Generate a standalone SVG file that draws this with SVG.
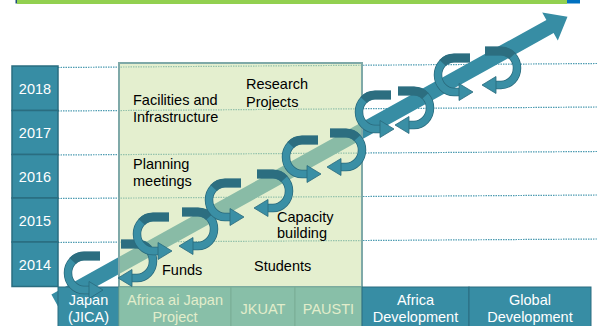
<svg xmlns="http://www.w3.org/2000/svg" width="597" height="326" viewBox="0 0 597 326">
<style>
.t{font-family:"Liberation Sans",Arial,sans-serif;font-size:14.5px;fill:#000}
.w{fill:#fff}
.g{fill:#E2EDCB}
.m{text-anchor:middle}
.yr{fill:#378DA4;stroke:#2A6D80;stroke-width:1.5}
.tc{fill:#378DA4;stroke:#2A6D80;stroke-width:1}
.gc{fill:#88BFA8;stroke:#7AAE96;stroke-width:1}
.dot{stroke:#4E9CB2;stroke-width:1.2;stroke-dasharray:1.5 1;fill:none}
</style>
<defs>
<g id="arcL">
<path d="M16,-17 L0,-17 A16 17 0 0 0 0 17 L6 17" fill="none" stroke="#2A6A7C" stroke-width="8.5"/>
<path d="M16,-17 L0,-17 A16 17 0 0 0 0 17 L6 17" fill="none" stroke="#3A8FA5" stroke-width="7"/>
<path d="M16,-17 L0,-17 A16 17 0 0 0 -11.3,-12" fill="none" stroke="#2C6E80" stroke-width="9"/>
<polygon points="5,8.5 19,17 5,25.5" fill="#3A8FA5" stroke="#2A6A7C" stroke-width="0.8"/>
</g>
</defs>

<g id="topbar">
<rect x="17" y="0" width="550" height="4" fill="#92D050"/>
<rect x="15.5" y="0" width="1.5" height="3.5" fill="#1F4E79"/>
<rect x="567" y="0" width="13" height="3.5" fill="#0070C0"/>
</g>

<g id="gridlines">
<line class="dot" x1="58" y1="67.5" x2="597" y2="63.5"/>
<line class="dot" x1="58" y1="111" x2="597" y2="107"/>
<line class="dot" x1="58" y1="155" x2="597" y2="151.5"/>
<line class="dot" x1="58" y1="198.5" x2="597" y2="195"/>
<line class="dot" x1="58" y1="242.5" x2="597" y2="239"/>
</g>

<g id="main-arrow">
<polygon points="51.4,294.4 546.4,19.9 542.2,12.5 567.5,16.8 557.8,40.5 553.6,33.1 58.6,307.6" fill="#378DA4"/>
</g>

<g id="box">
<rect x="119" y="63" width="243" height="224" fill="#CEE2A8" fill-opacity="0.55" stroke="#7FA9A8" stroke-width="2"/>
</g>

<g id="years">
<g id="year-2018"><rect class="yr" x="12" y="66" width="46" height="44.5"/><text class="t w m" x="35" y="94">2018</text></g>
<g id="year-2017"><rect class="yr" x="12" y="110.5" width="46" height="44"/><text class="t w m" x="35" y="138">2017</text></g>
<g id="year-2016"><rect class="yr" x="12" y="154.5" width="46" height="43.5"/><text class="t w m" x="35" y="182">2016</text></g>
<g id="year-2015"><rect class="yr" x="12" y="198" width="46" height="44"/><text class="t w m" x="35" y="225.5">2015</text></g>
<g id="year-2014"><rect class="yr" x="12" y="242" width="46" height="44.5"/><text class="t w m" x="35" y="269.5">2014</text></g>
</g>

<g id="bottom-row">
<g id="cell-japan"><rect class="tc" x="58" y="287" width="61" height="42"/><text class="t w m" x="88.5" y="305">Japan</text><text class="t w m" x="88.5" y="321.5">(JICA)</text></g>
<g id="cell-aiproject"><rect class="gc" x="119" y="287" width="112" height="42"/><text class="t g m" x="175" y="305">Africa ai Japan</text><text class="t g m" x="175" y="321.5">Project</text></g>
<g id="cell-jkuat"><rect class="gc" x="231" y="287" width="64" height="42"/><text class="t g m" x="263" y="313.5">JKUAT</text></g>
<g id="cell-pausti"><rect class="gc" x="295" y="287" width="67" height="42"/><text class="t g m" x="328.5" y="313.5">PAUSTI</text></g>
<g id="cell-africadev"><rect class="tc" x="362" y="287" width="107" height="42"/><text class="t w m" x="415.5" y="305">Africa</text><text class="t w m" x="415.5" y="321.5">Development</text></g>
<g id="cell-globaldev"><rect class="tc" x="469" y="287" width="122" height="42"/><text class="t w m" x="530" y="305">Global</text><text class="t w m" x="530" y="321.5">Development</text></g>
</g>

<g id="spirals">
<use href="#arcL" transform="translate(84,273)"/>
<use href="#arcL" transform="translate(137,261) scale(-1,1)"/>
<use href="#arcL" transform="translate(153,234)"/>
<use href="#arcL" transform="translate(198,229) scale(-1,1)"/>
<use href="#arcL" transform="translate(225,200)"/>
<use href="#arcL" transform="translate(273,191) scale(-1,1)"/>
<use href="#arcL" transform="translate(302,157)"/>
<use href="#arcL" transform="translate(346,150) scale(-1,1)"/>
<use href="#arcL" transform="translate(375,112)"/>
<use href="#arcL" transform="translate(414,108) scale(-1,1)"/>
<use href="#arcL" transform="translate(454,75)"/>
<use href="#arcL" transform="translate(501,68) scale(-1,1)"/>
</g>

<g id="labels">
<g id="label-facilities"><text class="t" x="133" y="105">Facilities and</text><text class="t" x="133" y="122">Infrastructure</text></g>
<g id="label-research"><text class="t" x="246" y="89">Research</text><text class="t" x="246" y="107">Projects</text></g>
<g id="label-planning"><text class="t" x="133" y="169">Planning</text><text class="t" x="133" y="186">meetings</text></g>
<g id="label-capacity"><text class="t" x="277" y="222">Capacity</text><text class="t" x="277" y="238">building</text></g>
<g id="label-funds"><text class="t" x="162" y="275">Funds</text></g>
<g id="label-students"><text class="t" x="254" y="271">Students</text></g>
</g>
</svg>
